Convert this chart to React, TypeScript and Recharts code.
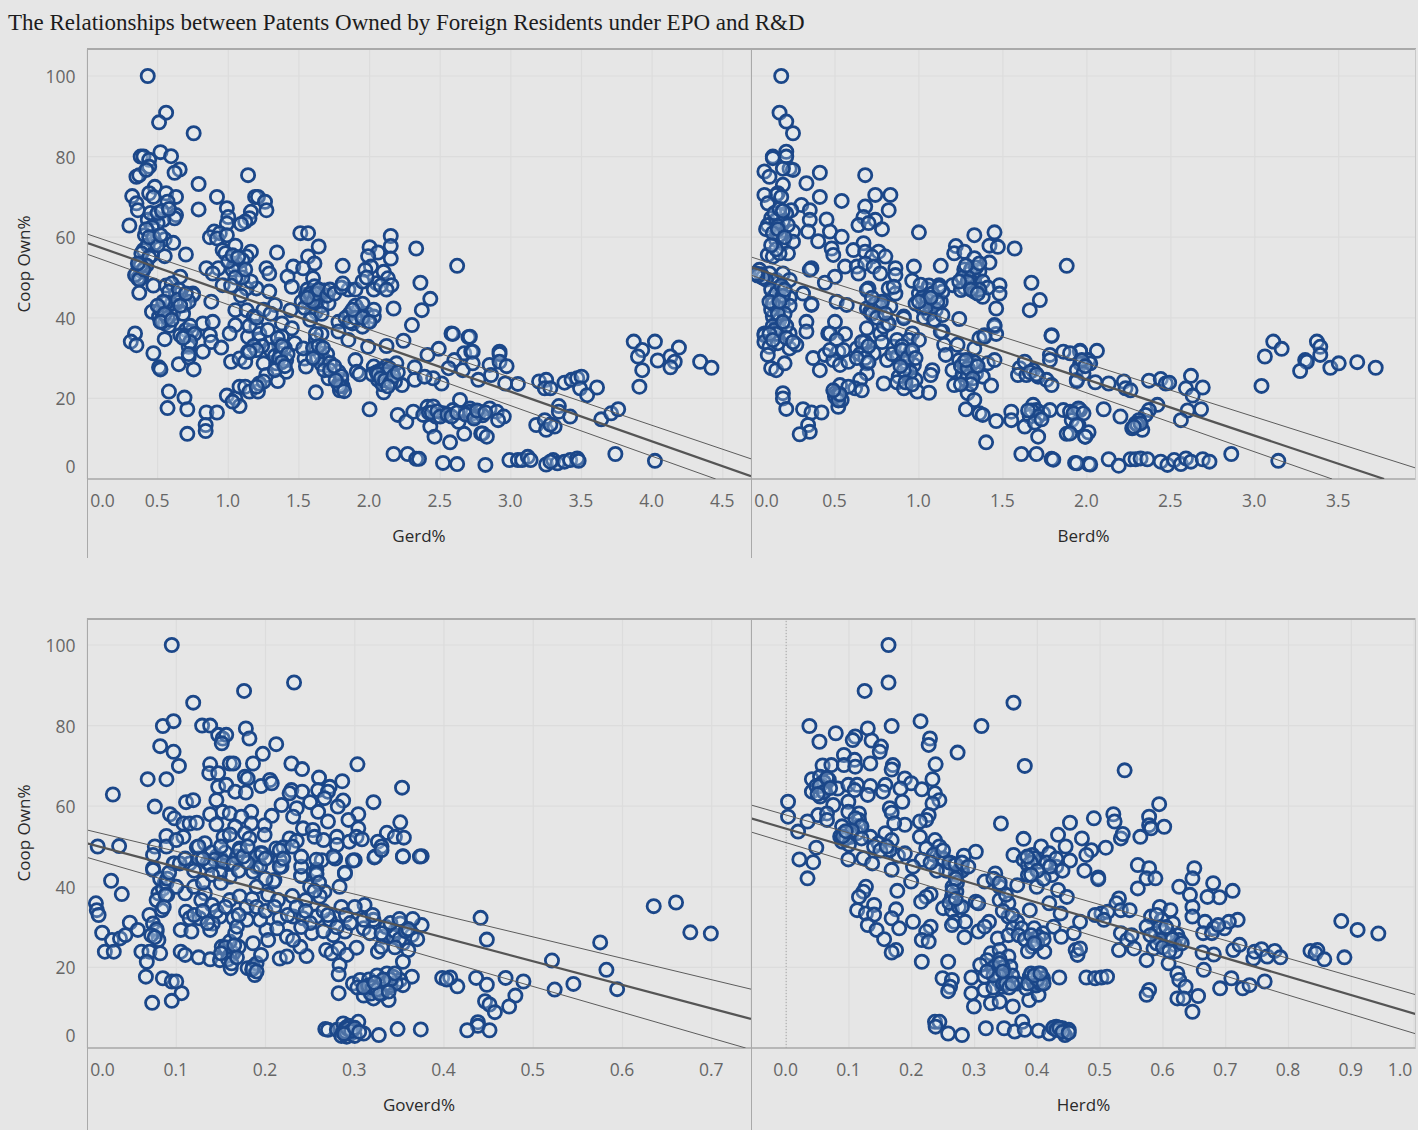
import React from "react";
import { ScatterChart, Scatter, XAxis, YAxis, CartesianGrid, ReferenceLine } from "recharts";

type Pair = [number, number];

const TITLE = "The Relationships between Patents Owned by Foreign Residents under EPO and R&D";
const OWN_TICKS = [0, 20, 40, 60, 80, 100];
const GERD_TICKS = [0, 0.5, 1, 1.5, 2, 2.5, 3, 3.5, 4, 4.5];
const BERD_TICKS = [0, 0.5, 1, 1.5, 2, 2.5, 3, 3.5];
const GOVERD_TICKS = [0, 0.1, 0.2, 0.3, 0.4, 0.5, 0.6, 0.7];
const HERD_TICKS = [0, 0.1, 0.2, 0.3, 0.4, 0.5, 0.6, 0.7, 0.8, 0.9, 1];

const gerdPoints: Pair[] = [
  [.43,100],[.56,90.9],[.51,88.5],[.755,85.8],[.38,80],[.40,80],[.52,81.1],[.595,80.1],[.44,79.2],[.44,77.5],[.656,76.8],[.62,76],[.35,75],[.37,75.4],[.42,76.7],[1.14,75.4],[.79,73.2],
  [.32,70.2],[.35,68.4],[.36,66.7],[.48,72.5],[.44,70.9],[.47,70],[.56,70.9],[.63,70],[.57,68.8],[.92,70],[1.19,70],[1.21,70],[1.26,68.8],[1.27,66.7],[.79,66.9],[.99,67.2],[1.16,66.3],[1.15,64.7],[1,65],[1.12,63.9],[1.09,63.3],[.99,63.4],
  [.63,65.5],[.62,64.7],[.48,65],[.54,64.3],[.43,64.3],[.5,63.5],[.46,62.5],[.3,62.9],[.9,61.4],[.87,60],[.94,61],[.92,59.7],[.99,60.5],[1.51,61],[1.565,61],[.41,60.5],[.55,59.5],[.61,58.6],[.48,58.5],[.40,56.8],[.43,58],[1.05,57.9],[.96,56.8],[1.16,56.4],[1.13,55.2],[1.06,53.5],[1.08,52],[1.1,54.3],[1.04,52.8],
  [.7,55.7],[.55,55.3],[.46,55.6],[.385,56],[1.345,56.2],[1.64,57.7],[1.565,55.2],[1.61,53.5],[1.81,52.9],[2,57.5],[2.06,56.2],[1.99,55.3],[2.15,60.3],[2.15,57.8],[2.15,54.7],[2.33,57.2],[2.62,52.9],[2.01,52.7],[1.97,51.9],
  [.37,52.7],[.35,51],[.385,50.2],[.36,49.8],[.39,51.5],[.34,50.6],[.37,49.5],[.845,52.3],[.93,52.3],[.89,51],[1.03,51.9],[1.27,52.3],[1.29,51],[1.46,52.7],[1.53,52.3],[1.42,50.2],[1.45,47.7],[1.6,49.8],[2.1,51.4],[2.13,49.8],[2.155,48.1],[2.05,48.6],[2.36,48.7],[2.43,44.7],
  [.96,48.1],[.66,50.2],[.47,48],[.56,48],[.63,46],[.75,46],[.37,46.2],[.6,48.5],[.58,46.5],[.65,47],[1.29,46.5],[1.2,47.3],[1.13,47.3],[1.09,45.5],[1.16,49],
  [.46,41.5],[.88,44],[.75,45.7],[.69,43.2],[.56,41.9],[.51,40.3],[.55,38.6],[.61,41.1],[.58,38],[.55,34.7],[.6,43.5],[.56,43.8],[.53,39],[.64,44.5],[2.17,42.3],[2.37,41.9],[2.3,38.2],[2.24,34.3],
  [1.05,41.9],[1.13,41.9],[1.18,40.3],[1.05,38.2],[1.01,36.1],[1.2,37.8],[1.33,43.2],[1.44,41.9],[1.38,38.6],[1.45,37.4],[1.38,35.3],[1.36,33.3],[1.14,35.3],[.82,38.6],[.89,39],[.87,35.7],[.88,34],[.95,32.6],[.82,31.6],[.7,37],[.74,36.6],[.66,35.7],[.72,32.8],[.34,36.1],[.31,34.1],[.35,33.2],[.47,31.2],[.51,27.7],[.52,27.2],[.65,28.5],[.72,30.2],[.755,27.2],
  [1.02,29.1],[1.08,29.9],[1.12,29.1],[1.14,31.6],[1.22,34.5],[1.25,28.7],[1.34,28.7],[1.41,29.5],[1.41,26.6],[1.35,24.3],[1.27,25.8],[1.47,33.7],[1.54,29.9],[1.53,32.4],[1.55,27.9],[1.3,32],[1.33,30.5],[1.37,31],[1.4,32.5],[1.36,30],[1.24,33],
  [.58,21.7],[.69,20.2],[.57,17.6],[.71,17.3],[.845,16.5],[.92,16.5],[.84,13.4],[.84,11.9],[.71,11.2],[.99,20.7],[1.05,20],[1.08,18.1],[1.03,19.2],[1.08,22.9],[1.12,22.9],[1.15,21.7],[1.21,21.7],[1.22,23.7],[1.25,24.2],[1.2,22.9],
  [1.55,45.7],[1.58,44.8],[1.6,46.5],[1.63,44.2],[1.6,42.9],[1.57,43.6],[1.62,41.5],[1.65,45],[1.56,47],[1.68,46.8],[1.52,44],[1.66,43],[1.59,40.8],[1.61,47.8],[1.54,42.5],[1.71,43.6],[1.78,39],[1.86,41],[1.92,41.9],[1.98,41],[2.03,40.3],[1.88,38.6],[1.95,37.8],[1.78,36.6],[1.85,34.5],[1.99,32.8],[2.12,33],[1.9,43],[1.95,43.5],[1.99,39],[1.83,40],
  [1.62,34.5],[1.65,31.2],[1.68,29.5],[1.7,31],[1.63,30],[1.66,28.5],[1.72,28.8],[1.71,25],[1.62,21.5],[1.79,22],[1.8,24.6],[1.78,26.6],[1.9,29.5],[1.91,26.6],[1.93,26],[1.78,23.5],[1.81,23],[1.6,32.5],
  [2,17.3],[2.1,21.5],[2.03,27.9],[2.1,26.2],[2.14,25.4],[2.19,28.7],[2.23,23.3],[2.06,24.6],[2.08,27],[2.12,28],[2.16,26.5],[2.09,23.5],[2.18,24.2],[2.02,26],[2.05,26.5],
  [2.2,15.9],[2.26,14.2],[2.31,16.7],[2.17,6.2],[2.27,6.2],[2.33,5],[2.35,5],[2.52,4],[2.62,3.7],[2.41,17.9],[2.38,15.9],[2.43,13],[2.46,10.5],[2.57,9.1],[2.67,11.2],[2.64,19.6],[2.59,17.1],[2.63,14.2],[2.52,16.3],[2.47,15.5],[2.42,16.5],[2.45,18],[2.71,17.5],[2.73,16.3],[2.79,11.3],
  [2.32,27.7],[2.32,24.6],[2.41,30.8],[2.49,32.3],[2.58,36.1],[2.7,35.2],[2.67,31.2],[2.72,31.6],[2.6,29.5],[2.56,27.5],[2.66,27],[2.51,23.7],[2.45,25],[2.39,25.4],[2.59,36],[2.71,35.3],[2.73,31.6],[2.73,28.7],[2.85,28.3],[2.86,25.8],[2.77,24.6],[2.92,31.6],[2.92,31],[2.92,29.1],[2.97,28],[2.96,23.7],[3.05,23.6],
  [2.71,16.7],[2.78,16.7],[2.85,17.5],[2.9,16.7],[2.95,15.5],[2.91,14.6],[2.75,15.5],[2.8,15.8],[2.8,11.3],[2.83,10.5],[2.82,3.5],[2.99,4.7],[3.05,4.7],[3.08,4.7],[3.12,5.5],[3.14,4.7],[3.25,3.6],[3.3,4.7],[3.33,3.9],[3.38,4.3],[3.42,4.7],[3.47,5.1],[3.48,4.5],[3.28,4.3],
  [3.2,24.2],[3.25,24.6],[3.24,22.5],[3.28,22.5],[3.38,23.9],[3.43,24.6],[3.47,25],[3.5,25.4],[3.49,22.5],[3.54,20.8],[3.61,22.7],[3.34,18.1],[3.34,16.7],[3.42,15.5],[3.18,13.4],[3.24,14.6],[3.25,12.2],[3.31,13],[3.28,13.5],[3.64,14.8],[3.71,16.3],[3.76,17.3],[3.74,6.2],[4.02,4.5],
  [3.87,34.1],[4.02,34.1],[3.93,32],[3.9,30.4],[4.04,29.4],[4.19,32.6],[4.13,30.4],[4.16,29.1],[4.13,27.7],[3.93,27],[3.91,22.9],[4.34,29.1],[4.42,27.6],
];

// overlapping rings inside the dense clumps, estimated by eye
const gerdCluster: Pair[] = [
  [.52,42],[.54,44],[.5,43],[.57,40],[.55,41],[.52,39],[.6,39.5],[.68,41],[.72,44],[.7,46],[.66,43],[.73,38],[.7,35.5],[.76,36],[.73,34],[.72,31],[.68,35],
  [.45,66],[.5,66],[.53,66.5],[.58,67],[.42,62],[.47,60],[.5,58],[.44,55],[.42,53],[.44,60],[.52,60.5],[.38,53],[.4,52],[.36,53.5],
  [.98,56],[1,54],[1.03,55.5],[1.07,55],[1.1,50],[1.05,50],[1.12,52],[1.02,48],
  [1.35,35],[1.38,33],[1.42,31],[1.38,29],[1.33,27],[1.4,28],[1.15,38],[1.2,40],[1.25,42],[1.3,41],[1.22,36],[1.28,37],[1.18,33],[1.2,32],[1.15,31.5],
  [1.64,33],[1.67,32.5],[1.6,30],[1.68,27],[1.72,27],[1.75,28],[1.66,36],[1.62,36],[1.8,25.5],[1.79,23],[1.82,21.8],[1.76,24.5],
  [1.58,46],[1.6,44],[1.62,46],[1.56,45],[1.64,47],[1.7,45.5],[1.72,47],[1.75,46],[1.66,41],[1.58,39.5],
  [1.86,39],[1.9,40],[1.95,40],[2,39],[2.03,42],[1.88,42],[1.85,47],[1.8,47.5],[1.9,47],[1.95,49],[1.98,50],[2.03,47],[2.08,48],[2.12,47],[1.81,48.5],
  [2.1,27],[2.12,26],[2.14,27.5],[2.06,26],[2.08,25],[2.11,24.5],[2.15,24],[2.17,25.5],[2.13,23],[2.2,26.5],
  [2.44,16.5],[2.48,16.8],[2.5,15.5],[2.55,16],[2.58,15.5],[2.62,16.5],[2.68,16],[2.74,15],[2.76,17],[2.82,16.5],
];

const berdPoints: Pair[] = [
  [.18,100],[.17,90.9],[.21,88.7],[.25,85.8],[.13,80],[.21,81.2],[.21,80],[.13,79.6],[.23,77],[.25,76.7],[.08,76.3],[.11,75],[.19,77],[.41,76],[.33,73.4],[.68,75.4],[.41,70],[.54,69],[.74,70.5],[.83,70.5],[.82,66.7],
  [.19,73],[.16,70.9],[.15,70.5],[.08,70.5],[.1,68.4],[.18,70],[.3,68],[.35,66.7],[.24,66.7],[.21,65.9],[.17,65.5],[.12,64.7],[.1,63],[.15,64.3],[.19,64],[.16,62.8],[.35,64.3],[.45,64.4],[.68,67.6],[.67,65],[.64,63],[.74,64.3],[.78,62],[.7,63.5],
  [.25,61.4],[.34,61.4],[.47,61.4],[.54,60.1],[.4,59],[.15,59.3],[.19,58.5],[.25,58.9],[.17,60.5],[1,61.2],[1.33,60.5],[1.45,61.2],[1.42,57.9],[1.47,57.6],[1.57,57.2],[1.22,57.8],[1.21,56],[1.27,56.4],[.22,56],[.1,55.6],[.13,55.2],[.17,56],[.15,57],
  [.67,58.5],[.48,57.2],[.49,55.6],[.61,56.8],[.68,56.4],[.76,56.4],[.8,55.2],[.72,55.2],[.56,52.7],[.86,52.3],[.97,52.7],[1.13,52.9],[1.42,53.7],[1.88,52.9],[1.33,54.8],[.36,52.3],[.35,51.9],[.63,52.7],[.68,53.5],[.73,52.7],[.64,51],[.77,51],[.86,50.6],[.5,50.2],[.44,48.7],[.96,49.2],[1.12,48.1],[1.2,48.1],[1.48,48.1],[1.48,46],[1.67,48.7],[1.72,44.4],[1.66,41.9],[1.46,42.3],
  [1.27,52],[1.3,51],[1.26,50],[1.33,50],[1.36,51.5],[1.3,48.5],[1.34,48],[1.38,49],[1.27,47.5],[1.33,46.5],[1.25,46.9],[1.38,45.2],[1.41,47.5],[1.36,47],[1.05,47],[1,46],[1.03,44.5],[1.07,43],[1.1,45],[1.13,44],[1.02,42.5],[1.06,41],[.98,43.5],[1.1,42],[1.06,48],[1.14,46.5],[1.01,48.2],[1.03,40],[1.09,39.5],[1.24,39.7],[1.14,40.7],
  [.05,51.9],[.07,50],[.11,51],[.15,49.4],[.19,51],[.23,49.4],[.16,47.3],[.36,43.2],[.51,44],[.57,43.2],[.5,39],[.13,45],[.31,46],[.23,45],[.7,47.3],[.82,47.3],[.86,46],[.06,50.8],[.09,49.5],
  [.73,42.8],[.69,42.3],[.77,43.6],[.83,42.8],[.91,40.3],[.15,42.8],[.19,43.6],[.23,43],[.13,40.3],[.17,39.5],[.33,39],[.33,36.6],[.08,36.1],[.23,36.1],[.46,36.1],[.56,36],[.69,37.4],[.81,38.6],[.77,36.1],[.96,36.1],[1.14,36.6],[1.45,37.8],[1.46,36],[1.39,35.7],[1.79,35.7],
  [.36,43.4],[.16,38],[.13,38],[.2,41],[.12,42],[.17,37],[.21,38],[.08,35.7],[.08,34],[.11,32.8],[.1,30.8],[.16,33.7],[.23,32.4],[.27,33.3],[.12,27.5],[.15,27],[.2,28.7],[.19,21.3],[.19,20],[.21,17.4],[.31,17.3],[.36,16.5],[.42,16.5],[.34,13.4],[.35,11.7],[.29,11.1],
  [.37,30],[.41,27],[.44,30.8],[.47,36.1],[.51,34.5],[.52,31.6],[.49,29.5],[.53,28.3],[.58,29.1],[.63,32.4],[.68,32],[.68,34],[.73,31.2],[.69,28.7],[.69,26.2],[.65,24.6],[.62,22.5],[.66,22],[.53,23.3],[.58,22.9],[.5,21.3],[.51,20],[.52,17.9],[.54,19.6],[.5,20.5],[.52,21],[.55,32],[.47,32],
  [.79,23.7],[.81,29.5],[.85,32.8],[.87,34.5],[.78,34],[.94,34.5],[1,34.5],[.95,31.6],[.87,30.4],[.93,27.9],[.97,28.3],[.88,25.4],[.87,24],[.91,22.5],[.98,24.6],[.99,21.7],[1.06,21.4],[1.08,27],[1.07,25.8],[.84,31],[.92,29],[.95,26.5],[.9,33],
  [.91,39.9],[.79,37.8],[.82,38.5],[.71,41.5],[.74,43.6],[.77,42.8],[.85,47.7],[.69,46.9],[1.13,36.6],[1.15,33.3],[1.16,30.8],[1.23,33.3],[1.33,32.4],[1.36,34.9],[1.39,35.3],[1.45,38.2],[1.41,28.7],[1.45,29.5],
  [1.2,27],[1.21,23.3],[1.28,24.6],[1.24,29.5],[1.3,27],[1.34,26.2],[1.38,25.4],[1.43,23.2],[1.29,21.3],[1.33,19.6],[1.28,17.3],[1.36,16.3],[1.38,15.9],[1.46,14.4],[1.55,16.7],[1.55,14.6],[1.4,9.1],[1.27,29],[1.31,28.5],[1.26,26],[1.29,25.5],[1.33,29],
  [1.6,27.5],[1.63,29.1],[1.59,25.8],[1.64,25.8],[1.68,27],[1.71,25.4],[1.76,24.6],[1.79,23.3],[1.79,35.5],[1.78,30.8],[1.78,29.5],[1.86,31.6],[1.96,31.8],[1.94,24.6],[1.97,28.7],[2.01,29.5],[1.66,26.5],[1.7,26],
  [1.68,18.4],[1.7,17.1],[1.66,15.5],[1.74,16.3],[1.78,17.1],[1.86,17.1],[1.9,16.7],[1.96,17.1],[1.91,14.6],[1.95,13.4],[1.63,13],[1.71,10.5],[1.88,11.2],[1.99,10.5],[1.67,17],[1.71,15.5],[1.65,17],[1.69,14],[1.73,14.8],[1.61,6.2],[1.7,6.2],[1.79,5],[1.8,4.8],[1.93,4],[2.01,3.7],
  [2.06,31.8],[1.96,31.6],[1.9,31.2],[1.96,28.7],[2.02,28.7],[1.94,27],[1.98,26.2],[1.97,29.5],[1.99,28],[1.94,24.3],[2.05,24],[2.13,23.7],[2.22,24.2],[2.23,22.5],[2.26,22],[2.37,24.4],[2.44,24.8],[2.47,23.7],[2.49,23.9],[2.62,25.6],[2.59,22.5],[2.69,22.7],[2.63,20.7],
  [2.42,18.4],[2.37,17.1],[2.35,15.9],[2.31,14.6],[2.29,13.8],[2.27,12.6],[2.33,12.2],[2.3,13.5],[2.32,13.8],[2.28,13],[2.6,17],[2.56,14.6],[2.68,17.3],[2.1,17.3],[2.2,15.5],[1.95,17.5],[1.92,16.3],[1.98,16.3],[1.94,13.4],[2.01,11.6],[1.99,10.5],[1.9,11.3],
  [1.94,3.9],[2.02,3.6],[2.13,4.9],[2.19,3.3],[2.26,4.9],[2.29,4.9],[2.32,5.1],[2.36,4.9],[2.44,4.3],[2.48,3.5],[2.52,4.7],[2.56,3.7],[2.59,5.1],[2.62,4.3],[2.69,4.9],[2.73,4.3],[2.86,6.2],[3.14,4.5],
  [3.11,34.1],[3.16,32.3],[3.06,30.4],[3.04,23.1],[3.37,34.1],[3.39,32.8],[3.39,30.8],[3.3,29.5],[3.31,29.1],[3.27,26.8],[3.45,27.6],[3.5,28.7],[3.61,29],[3.72,27.6],
];

const berdCluster: Pair[] = [
  [.12,47],[.15,46],[.18,48],[.13,43.5],[.16,41],[.19,45.5],[.2,47],[.11,44],[.17,44],[.14,37],[.19,39],[.15,36],[.11,36],[.13,34.5],[.21,35],[.25,34],
  [.09,62],[.14,66],[.17,67],[.13,61],[.12,58],[.19,66.5],[.22,63],[.07,50],[.04,50.5],[.03,51],[.16,62],[.2,60],
  [.66,34],[.65,31],[.68,30],[.7,33],[.63,30],[.7,29],
  [1.02,45],[1.05,44.5],[1.08,46],[1.11,44],[1.04,42.5],[1.07,45],[1,44],[1.12,47.5],
  [1.29,49],[1.31,52],[1.34,52.5],[1.24,49],[1.28,53],[1.36,53.5],[1.31,47],[1.35,46],
  [.9,32],[.93,30],[.91,27],[.96,32],[.98,30],[.89,28],[.92,24],[.96,23.5],
  [1.25,28],[1.29,27.5],[1.32,25],[1.28,29.5],[1.31,23.5],[1.35,28],[1.25,23.5],
  [.72,41],[.75,40],[.78,44],[.8,41],[.72,45],[.52,19.5],[.53,21],[.49,22],
];

const goverdPoints: Pair[] = [
  [.095,100],[.232,90.7],[.176,88.6],[.119,85.7],[.085,79.9],[.097,81.1],[.129,80],[.138,80],[.178,79.3],[.182,76.8],[.147,77.7],[.152,76.8],[.156,77.7],[.151,75.6],[.212,75.4],[.197,73],[.082,74.9],[.097,73.5],[.103,70],[.068,66.7],[.089,66.7],[.029,62.9],
  [.138,70.4],[.16,70.6],[.164,70.6],[.186,70.6],[.229,70.6],[.241,69.2],[.303,70.4],[.137,68.2],[.147,68.2],[.177,67.3],[.18,66.9],[.205,66.5],[.195,65],[.207,65.7],[.26,67.1],[.286,66.2],[.353,64.6],[.147,64.8],[.156,65.3],[.166,63.6],[.178,63.4],[.229,64],[.227,63.2],[.241,63.6],[.259,64],[.272,64.8],[.27,63.6],
  [.111,61],[.119,61.5],[.145,61.5],[.076,59.9],[.218,60.3],[.25,61],[.266,62],[.287,61.4],[.321,61],[.093,58],[.098,57],[.138,58],[.152,58.6],[.16,58.2],[.184,58.6],[.207,57.6],[.235,59.5],[.231,57.4],[.259,58.6],[.281,59.9],[.304,58],
  [.108,55.7],[.115,55.7],[.123,55.9],[.145,55.5],[.173,57.4],[.166,54.9],[.184,55.7],[.199,55.3],[.27,56.2],[.293,56.6],[.351,56],[.089,52.6],[.108,52.4],[.153,52.4],[.177,53.3],[.182,52],[.199,52.9],[.242,54.5],[.253,54.1],[.304,54.5],[.28,52.4],[.336,53.4],[.326,51.2],
  [.012,50],[.036,50.1],[.076,50],[.089,50],[.1,51.6],[.123,49.8],[.132,50.8],[.227,52],[.235,51.4],[.255,52.4],[.265,51.6],[.28,50.4],[.294,51.2],[.302,52.4],[.308,51.8],[.345,52.4],[.355,52.2],[.33,50],[.074,47.9],[.171,49.5],[.194,48.3],[.212,49.5],[.22,49.8],[.323,47.5],[.354,47.5],[.375,47.6],[.278,47],[.263,46.6],[.216,46.6],[.3,46.6],
  [.074,44.6],[.098,45.8],[.115,45.8],[.145,47.5],[.16,45.8],[.19,45],[.218,45],[.24,42.7],[.257,44.2],[.257,43],[.289,43.3],[.027,41.5],[.21,41.7],[.15,47],[.14,48.5],[.155,48.5],[.168,47.5],[.135,46],[.125,47],[.19,47.5],
  [.039,38.2],[.01,35.9],[.011,34.2],[.013,33],[.048,31.1],[.017,28.6],[.057,29.3],[.028,26.8],[.037,27.2],[.043,28],[.02,23.9],[.03,23.9],[.074,44.2],[.087,40.9],[.08,38.4],[.078,36.7],[.084,34.2],[.07,33],[.074,30.9],[.078,28.9],[.08,26.8],[.061,23.9],[.07,23.9],[.082,23.5],[.067,21.4],[.066,17.7],[.085,17.3],[.095,16.5],[.1,16.5],[.106,13.6],[.095,11.7],[.073,11.2],[.085,39.5],[.09,38],[.082,42],[.078,29.5],[.072,28],[.076,27.5],
  [.105,29.3],[.117,28.9],[.105,23.9],[.11,23.1],[.125,22.5],[.138,22],[.149,21.8],[.161,19.8],[.156,24.3],[.164,23.5],[.151,25.1],[.17,25.1],[.16,26.4],[.166,28.5],[.18,19.8],[.188,18.1],[.186,20.2],[.19,21],[.195,23.1],[.186,26],[.155,25],[.16,23],[.165,25.5],[.158,22],[.162,21],[.15,23.5],[.168,22.5],[.185,19.5],[.19,19],
  [.097,45.8],[.104,45.8],[.089,40.9],[.11,38.4],[.132,38.4],[.128,36.7],[.111,33.8],[.115,32.2],[.126,32.2],[.14,35.5],[.149,32.6],[.141,30.9],[.138,29.3],[.16,36.7],[.171,37.6],[.179,35.1],[.164,32.2],[.179,31.8],[.168,30.1],[.143,46.7],[.153,46.2],[.164,45.8],[.138,45.4],[.16,42.5],[.186,43.8],[.194,45],[.196,48.3],[.171,49.1],[.125,50],[.149,43.3],[.209,41.3],[.203,38],[.214,36.7],[.216,45],[.216,49.1],
  [.201,29.3],[.194,31.8],[.216,32.2],[.203,26.8],[.216,22.2],[.224,22.7],[.246,22.8],[.239,25.1],[.224,27.6],[.213,29.7],[.231,26.8],[.23,37.7],[.245,36.7],[.24,42.7],[.257,43.3],[.289,43.5],[.283,40],[.298,46.5],[.257,46.7],[.276,47.5],[.266,38.8],[.261,37.6],[.231,32.6],[.242,32.2],[.257,32.6],[.252,28.5],[.272,31.8],[.276,28],[.289,28.9],[.268,24.3],[.274,23.5],[.282,24.7],[.291,23.1],[.302,24.9],[.283,20.6],[.282,18.3],[.282,13.6],
  [.311,35.5],[.321,31.8],[.31,29.7],[.317,28.5],[.31,31.8],[.332,27.6],[.351,30.9],[.326,23.9],[.33,25.1],[.354,26],[.36,24.3],[.354,21.4],[.364,17.7],[.375,30.5],[.364,28],[.343,27.6],[.322,47.3],[.33,49.1],[.354,47.6],[.373,47.5],[.345,29],[.35,27],[.357,29],
  [.298,16],[.306,16.9],[.313,15.2],[.321,14.4],[.328,16],[.336,18.5],[.343,17.7],[.351,16.9],[.354,15.6],[.31,13],[.321,12.3],[.338,11.9],[.316,17],[.325,18],[.333,14.5],[.34,15.5],[.346,16],[.303,15],[.318,13.5],[.33,13.5],
  [.267,4.7],[.27,4.5],[.28,4.5],[.287,6.1],[.287,4],[.291,2.8],[.304,6.5],[.298,4.5],[.31,3.6],[.327,3.2],[.348,4.7],[.374,4.6],[.29,5],[.295,3.5],[.285,3],[.3,3],[.293,5.5],
  [.415,15.3],[.398,17.4],[.407,17.5],[.403,17],[.436,17.4],[.448,15.7],[.469,17.4],[.489,16.5],[.48,13],[.473,10.3],[.446,11.6],[.451,10.8],[.457,8.9],[.438,6.4],[.438,5.5],[.426,4.4],[.451,4.4],[.441,32.3],[.448,26.9],[.521,21.7],[.524,14.5],[.545,15.9],[.575,26.2],[.582,19.4],[.594,14.6],[.635,35.2],[.66,36.1],[.676,28.7],[.699,28.4],
];

const goverdCluster: Pair[] = [
  [.09,42],[.1,40],[.088,38],[.092,43.5],[.086,35],[.12,40],[.13,41],[.14,43],[.15,41],[.17,44],[.18,46],[.175,47.5],[.2,42],[.19,40],
  [.12,33],[.13,34],[.135,31],[.145,34],[.155,35],[.17,33],[.185,37],[.19,35],[.2,34],[.21,35],[.225,33],[.235,35],[.245,34],[.25,31],[.24,30],[.265,34],[.27,33],[.285,35],[.29,33],[.28,30],[.265,29],
  [.3,35],[.295,31],[.32,33],[.335,30],[.34,31],[.365,32],[.36,29.5],[.37,27],[.35,32],[.33,28.5],[.345,25],
  [.12,44],[.11,47],[.13,47],[.24,45],[.25,40],[.26,41],[.255,39],[.16,53],[.15,50],[.18,50],[.22,47],[.2,47],[.23,50],[.24,47.5],
  [.29,4],[.292,4.8],[.296,4.2],[.288,3.5],[.3,5],[.305,4],
  [.315,15.5],[.32,15],[.325,14.5],[.335,16],[.34,17],[.345,18.5],[.332,17],[.31,15],[.328,13.5],[.322,16.2],[.338,14],
];

const herdPoints: Pair[] = [
  [.163,100],[.163,90.7],[.125,88.6],[.362,85.7],[.037,79.9],[.168,79.9],[.214,81.1],[.311,79.9],[.079,78.1],[.13,79.3],[.11,77.3],[.106,76.4],[.053,76],[.136,76.3],[.151,74.8],[.149,73.5],[.229,76.8],[.227,75.2],[.273,73.3],
  [.092,72.7],[.109,71.5],[.134,70.6],[.17,70.2],[.168,69.1],[.058,70.1],[.072,70.2],[.092,70.2],[.11,69.8],[.238,70.4],[.38,70],[.539,68.9],[.233,66.7],[.041,66.7],[.054,67.3],[.068,66.5],[.041,63.6],[.058,64],[.054,62.4],[.082,64.4],[.099,65.3],[.113,65.3],[.109,64],[.134,65],[.158,65.3],[.154,63.6],[.189,66.9],[.199,65.7],[.182,64.4],[.216,64.2],[.237,63.2],[.13,62.8],[.244,61.5],[.233,60.7],[.055,65.5],[.06,66],[.048,65],
  [.003,61.1],[.003,57.4],[.075,60.3],[.099,61.1],[.185,61.1],[.165,59.5],[.168,58.4],[.051,57.8],[.065,58.2],[.065,56.6],[.034,56.2],[.099,58.6],[.116,58.2],[.116,56.6],[.116,55],[.227,57.8],[.223,56.6],[.213,56.2],[.189,55.4],[.172,55.8],[.089,55],[.342,55.7],[.452,55.9],[.49,57],[.521,58],[.523,56.2],[.578,57.4],[.594,60.5],[.578,55.3],[.581,54.5],[.602,54.9],
  [.019,53.7],[.048,49.7],[.021,46.8],[.043,46.1],[.034,42.1],[.092,53.3],[.089,51.2],[.103,52.4],[.113,53.3],[.134,52.4],[.158,53.3],[.147,50.8],[.168,51.6],[.099,46.8],[.123,47.1],[.137,45.8],[.086,52.5],[.095,52],[.1,50.5],[.213,52.4],[.237,51.6],[.223,49.5],[.244,50],[.302,48.7],[.283,47.7],[.178,47.7],[.165,49.1],[.189,48.3],[.216,46.7],[.244,47],[.264,45.8],[.278,44.6],[.168,44.2],[.202,45],[.199,41.3],[.28,44],[.27,43],[.255,44],
  [.433,52.9],[.471,52],[.533,52],[.536,53.1],[.564,52.4],[.378,51.9],[.406,50],[.445,50],[.509,49.7],[.486,49.1],[.478,47.9],[.362,47.9],[.419,48.3],[.452,46.5],[.378,46.7],[.392,47.9],[.402,46.2],[.385,45.4],[.395,47.1],[.39,46],[.384,47.5],[.43,45],[.423,42.9],[.385,42.9],[.475,44],[.497,42.3],[.497,41.9],[.56,45.4],[.578,44.6],[.574,42.1],[.588,42.1],[.56,39.6],
  [.333,43.3],[.316,41.3],[.34,40],[.368,40.4],[.399,40],[.433,39.2],[.65,44.6],[.647,42.1],[.626,40],[.68,40.9],[.711,39],[.643,38],[.69,37.4],[.671,37.5],[.177,39],[.127,40],[.123,38.8],[.116,37.5],[.23,38.2],[.223,37.5],[.215,36.3],[.271,38.8],[.264,37.5],[.302,36.3],[.306,35.9],[.34,36.7],[.354,35.9],[.388,34.2],[.447,37.5],[.53,37.1],[.526,35.9],[.419,35.9],[.265,40],[.272,41],
  [.113,34.2],[.127,33.4],[.14,35.5],[.14,33.1],[.175,34.4],[.168,32.2],[.13,30.5],[.144,29.3],[.156,27],[.18,29.7],[.202,31.3],[.25,34.7],[.264,34.2],[.268,31.3],[.285,31.3],[.264,30.5],[.284,27.5],[.23,30.1],[.223,28.9],[.216,26.8],[.227,26.4],[.175,24.3],[.168,23.7],[.216,21.4],[.258,21.4],
  [.306,28.9],[.323,31.3],[.316,30.1],[.337,27.2],[.354,32.6],[.368,31.3],[.361,29.7],[.375,29.7],[.354,28],[.395,29.7],[.409,28.5],[.382,26.8],[.395,27],[.402,27.6],[.392,25.1],[.411,23.9],[.426,30.1],[.438,27.6],[.458,28.5],[.437,33.4],[.468,31.3],[.461,24.3],[.464,23.1],[.468,24.7],[.502,33.4],[.512,33.8],[.492,33],[.533,34.2],[.547,34.2],[.506,31.8],[.533,28.5],[.543,26.8],[.554,24.7],[.53,24.3],[.55,28],
  [.595,35],[.612,34.2],[.581,32.6],[.574,30.1],[.598,31.8],[.616,30.9],[.588,28.5],[.623,28],[.605,26.8],[.626,26.8],[.585,24.7],[.619,25.6],[.6,29],[.61,28],[.595,27],[.574,21.8],[.578,14.4],[.574,13.2],[.609,21],[.623,18.5],[.626,16.9],[.636,15.2],[.623,12.3],[.633,12.3],[.656,12.9],[.647,9],
  [.647,35],[.647,32.6],[.667,31.3],[.664,28.5],[.681,29.7],[.678,28.5],[.698,29.7],[.719,31.8],[.705,31.3],[.688,30.5],[.663,23.7],[.681,23.2],[.665,19.4],[.712,24.3],[.722,25.6],[.744,22.2],[.746,23.9],[.757,24.5],[.766,22.7],[.778,24.1],[.787,22.5],[.709,17.3],[.691,14.8],[.727,14.8],[.738,15.6],[.762,16.5],
  [.835,24.1],[.846,24.3],[.843,23.5],[.857,22],[.884,31.5],[.91,29.3],[.943,28.4],[.889,22.5],
  [.326,23.5],[.34,24.3],[.354,22.7],[.32,21.8],[.309,20.6],[.333,20.2],[.357,20.2],[.347,18.5],[.295,17.5],[.316,17.7],[.337,16.9],[.354,16.5],[.368,16],[.344,15.2],[.295,13.6],[.316,14.4],[.299,10.3],[.326,11.1],[.34,11.5],[.361,10.3],[.387,11.9],[.402,13.2],[.34,22],[.345,20],[.35,18],[.335,18.5],[.36,18],[.33,15],
  [.382,14.8],[.388,17.7],[.402,18.5],[.395,16],[.409,17.3],[.435,17.5],[.478,17.5],[.492,17.3],[.502,17.5],[.511,17.7],[.392,17],[.398,15.5],[.405,16],[.385,16],[.249,17.3],[.264,16.9],[.261,15.2],[.258,14.1],
  [.237,6.5],[.244,6.5],[.238,5.3],[.258,3.6],[.28,3.2],[.318,4.9],[.347,4.9],[.364,4.1],[.376,6.5],[.38,4.5],[.402,4.3],[.419,3.6],[.43,5.3],[.44,4.9],[.45,4.5],[.444,3.2],[.435,4.5],[.425,5],
];

const herdCluster: Pair[] = [
  [.11,57],[.12,55],[.105,54],[.09,52.5],[.095,53.8],[.12,52],[.14,50],[.15,49],[.16,50],
  [.25,47],[.26,46],[.27,45.5],[.28,46],[.29,45],[.27,42],[.265,39],[.26,36],[.275,35],[.24,44],[.235,48],[.25,49],[.23,46],
  [.33,42],[.34,41],[.35,38],[.345,34],[.36,33],[.37,28],[.38,27],[.39,28],[.4,26],[.385,24],[.41,27],[.395,26],[.28,35],[.27,37],
  [.33,20],[.34,18],[.345,16],[.35,16],[.355,15],[.34,21],[.33,18],[.36,16],[.345,19],[.32,19],
  [.4,17],[.39,18.5],[.41,16],[.395,18],[.405,18.5],
  [.595,30],[.605,30],[.59,26],[.6,25],[.615,27],[.62,24],[.63,26],[.61,24],[.59,33],[.58,28],
  [.43,4.5],[.435,5],[.44,4],[.45,3.8],[.415,46],[.43,47],[.44,44],[.42,45],[.41,42],[.4,44],[.39,43],
  [.053,65],[.06,63.5],[.05,63],[.065,67],[.07,64.5],
];

// regression fit and its two confidence lines, as read at the panel edges
const gerdFit: Pair[] = [[0, 58.6], [4.7, 0.7]];
const gerdUpper: Pair[] = [[0, 60.8], [4.7, 5]];
const gerdLower: Pair[] = [[0, 55.8], [4.45, 0]];
const berdFit: Pair[] = [[0, 52.6], [3.77, 0]];
const berdUpper: Pair[] = [[0, 55.1], [3.96, 2.7]];
const berdLower: Pair[] = [[0, 50.6], [3.46, 0]];
const goverdFit: Pair[] = [[0, 50.8], [0.744, 7.2]];
const goverdUpper: Pair[] = [[0, 54.1], [0.744, 14.6]];
const goverdLower: Pair[] = [[0, 47.3], [0.738, 0]];
const herdFit: Pair[] = [[-0.056, 57], [1.003, 8.4]];
const herdUpper: Pair[] = [[-0.056, 60.3], [1.003, 13.2]];
const herdLower: Pair[] = [[-0.056, 53.6], [1.003, 3.5]];

const toXY = (pairs: Pair[]) => pairs.map(([x, y]) => ({ x, y }));

const BLUE = "#1b4789";
const AXIS = "#a9a9a9";
const GRID = "#dcdcdc";
const TICK = "#666666";
const FONT = "'Open Sans', sans-serif";
const NO_MARK = () => <g />;

const Ring = ({ cx, cy }: any) => (
  <circle cx={cx} cy={cy} r={6.6} fill="rgba(225,238,250,0.25)" stroke={BLUE} strokeWidth={2.8} />
);

interface PanelProps {
  left: number;
  top: number;
  showOwn?: boolean;
  label: string;
  points: Pair[];
  fit: Pair[];
  upper: Pair[];
  lower: Pair[];
  domain: [number, number];
  ticks: number[];
  zeroLine?: boolean;
}

function Panel({ left, top, showOwn, label, points, fit, upper, lower, domain, ticks, zeroLine }: PanelProps) {
  const axisW = showOwn ? 87 : 0;
  const plotW = showOwn ? 664 : 665;
  const plotH = 430;
  const xTick = ({ x, y, payload }: any) => (
    <text
      x={Math.min(Math.max(x - 0.5, axisW + 15.5), axisW + plotW - 16)}
      y={y + 20}
      textAnchor="middle"
      fontSize={17.5}
      fontFamily={FONT}
      fill={TICK}
    >
      {Number(payload.value).toFixed(1)}
    </text>
  );
  const yTick = ({ y, payload }: any) => (
    <text
      x={75.5}
      y={(payload.value === 0 ? y - 13 : y) + 7}
      textAnchor="end"
      fontSize={17.5}
      fontFamily={FONT}
      fill={TICK}
    >
      {payload.value}
    </text>
  );
  const titleStyle = { fontSize: 17, fontFamily: FONT, fill: "#2a2a2a", fontWeight: 500 };
  return (
    <div style={{ position: "absolute", left, top }}>
      <ScatterChart
        width={axisW + plotW}
        height={plotH + 79}
        margin={{ top: 0, right: 0, bottom: 0, left: 0 }}
      >
        <CartesianGrid stroke={GRID} strokeWidth={1.2} />
        <XAxis
          type="number"
          dataKey="x"
          domain={domain}
          ticks={ticks}
          height={79}
          allowDataOverflow
          interval={0}
          tick={xTick}
          tickLine={false}
          axisLine={{ stroke: AXIS, strokeWidth: 1.5 }}
          label={{ value: label, position: "insideBottom", offset: 16, style: titleStyle }}
        />
        <YAxis
          type="number"
          dataKey="y"
          domain={[0, 106.7]}
          ticks={OWN_TICKS}
          width={axisW}
          hide={!showOwn}
          allowDataOverflow
          interval={0}
          tick={yTick}
          tickLine={false}
          axisLine={false}
          label={
            showOwn
              ? {
                  value: "Coop Own%",
                  angle: -90,
                  position: "insideLeft",
                  offset: 24,
                  style: { ...titleStyle, textAnchor: "middle" },
                }
              : undefined
          }
        />
        {zeroLine && <ReferenceLine x={0} stroke="#a6a6a6" strokeDasharray="1 2" />}
        <Scatter data={toXY(points)} shape={Ring} isAnimationActive={false} />
        <Scatter data={toXY(upper)} shape={NO_MARK} line={{ stroke: "#5c5c5c", strokeWidth: 1 }} isAnimationActive={false} />
        <Scatter data={toXY(lower)} shape={NO_MARK} line={{ stroke: "#5c5c5c", strokeWidth: 1 }} isAnimationActive={false} />
        <Scatter data={toXY(fit)} shape={NO_MARK} line={{ stroke: "#555555", strokeWidth: 2.2 }} isAnimationActive={false} />
      </ScatterChart>
    </div>
  );
}

const rule = (l: number, t: number, w: number, h: number, c = AXIS) => (
  <div style={{ position: "absolute", left: l, top: t, width: w, height: h, background: c }} />
);

export default function App() {
  return (
    <div style={{ position: "absolute", left: 0, top: 0, width: 1418, height: 1130, background: "#e6e6e6", overflow: "hidden" }}>
      <div
        style={{
          position: "absolute",
          left: 8,
          top: 10,
          fontFamily: "'Liberation Serif', serif",
          fontSize: 23,
          color: "#1c1c1c",
          whiteSpace: "nowrap",
        }}
      >
        {TITLE}
      </div>
      <Panel left={0} top={49} showOwn label="Gerd%" points={[...gerdPoints, ...gerdCluster]} fit={gerdFit} upper={gerdUpper} lower={gerdLower} domain={[0, 4.7]} ticks={GERD_TICKS} />
      <Panel left={751} top={49} label="Berd%" points={[...berdPoints, ...berdCluster]} fit={berdFit} upper={berdUpper} lower={berdLower} domain={[0, 3.96]} ticks={BERD_TICKS} />
      <Panel left={0} top={618} showOwn label="Goverd%" points={[...goverdPoints, ...goverdCluster]} fit={goverdFit} upper={goverdUpper} lower={goverdLower} domain={[0, 0.744]} ticks={GOVERD_TICKS} />
      <Panel left={751} top={618} label="Herd%" points={[...herdPoints, ...herdCluster]} fit={herdFit} upper={herdUpper} lower={herdLower} domain={[-0.056, 1.003]} ticks={HERD_TICKS} zeroLine />
      {rule(87, 48, 1329, 2)}
      {rule(87, 49, 1, 509)}
      {rule(751, 49, 1, 509)}
      {rule(1415, 49, 1, 431, "#c8c8c8")}
      {rule(87, 618, 1329, 1.5)}
      {rule(87, 618, 1, 512)}
      {rule(751, 618, 1, 512)}
      {rule(1415, 618, 1, 431, "#c8c8c8")}
    </div>
  );
}
